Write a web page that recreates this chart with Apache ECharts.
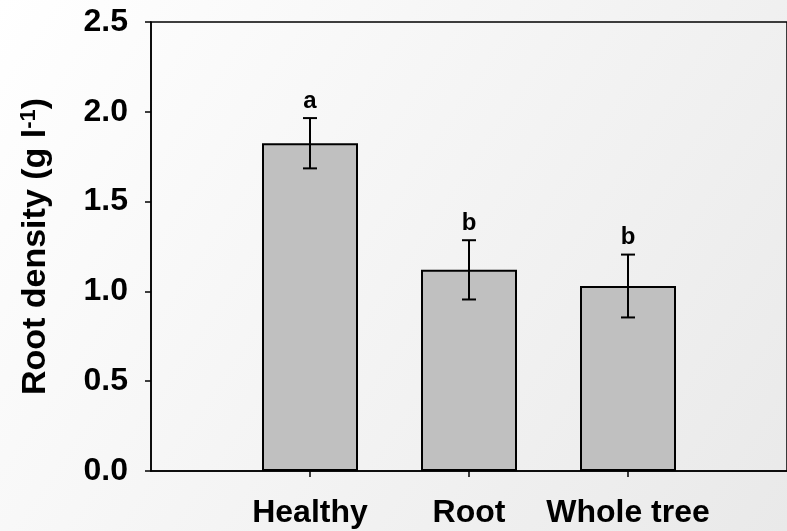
<!DOCTYPE html>
<html>
<head>
<meta charset="utf-8">
<script src="https://cdn.jsdelivr.net/npm/echarts@6/dist/echarts.min.js"></script>
<style>
html,body{margin:0;padding:0;}
#chart{width:787px;height:531px;}
</style>
</head>
<body>
<div id="chart"></div>
<script>
var categories = ['Healthy', 'Root', 'Whole tree'];
var catPositions = [1, 2, 3];
var means = [1.825, 1.12, 1.03];
var errors = [0.14, 0.165, 0.175];
var letters = ['a', 'b', 'b'];
var yMin = 0, yMax = 2.5, yStep = 0.5;

var FONT = 'Liberation Sans, Arial, sans-serif';

var barData = catPositions.map(function (p, i) { return [p, means[i]]; });
var errData = catPositions.map(function (p, i) { return [p, means[i] - errors[i], means[i] + errors[i], i]; });

var chart = echarts.init(document.getElementById('chart'));
chart.setOption({
  backgroundColor: {
    type: 'linear', x: 0, y: 0, x2: 1, y2: 1,
    colorStops: [{offset: 0, color: '#ffffff'}, {offset: 1, color: '#e9e9e9'}]
  },
  animation: false,
  grid: {left: 151, top: 22, width: 642, height: 449, show: true, borderColor: '#000', borderWidth: 1.5, backgroundColor: 'transparent'},
  xAxis: {
    type: 'value', min: 0, max: 4,
    splitLine: {show: false},
    axisLine: {show: true, onZero: false, lineStyle: {color: '#000', width: 1.5}},
    axisTick: {show: true, customValues: catPositions, length: 6, lineStyle: {color: '#000', width: 1.5}},
    axisLabel: {
      customValues: catPositions,
      formatter: function (v) { var i = catPositions.indexOf(v); return i >= 0 ? categories[i] : ''; },
      color: '#000', fontFamily: FONT, fontWeight: 'bold', fontSize: 32, margin: 26
    }
  },
  yAxis: {
    type: 'value', min: yMin, max: yMax, interval: yStep,
    splitLine: {show: false},
    axisLine: {show: true, lineStyle: {color: '#000', width: 1.5}},
    axisTick: {show: true, length: 6, lineStyle: {color: '#000', width: 1.5}},
    axisLabel: {
      formatter: function (v) { return v.toFixed(1); },
      color: '#000', fontFamily: FONT, fontWeight: 'bold', fontSize: 32, margin: 23
    },
    name: '{n|Root density (g l}{s|-1}{n|)}',
    nameLocation: 'middle', nameGap: 97, nameRotate: 90,
    nameTextStyle: {
      rich: {
        n: {fontFamily: FONT, fontWeight: 'bold', fontSize: 34, color: '#000'},
        s: {fontFamily: FONT, fontWeight: 'bold', fontSize: 22, color: '#000', verticalAlign: 'top', padding: [0, 0, 14, 0]}
      }
    }
  },
  series: [
    {
      type: 'bar', data: barData, barWidth: 96,
      itemStyle: {color: '#c0c0c0', borderColor: '#000', borderWidth: 2}
    },
    {
      type: 'custom', data: errData,
      renderItem: function (params, api) {
        var x = api.value(0);
        var lo = api.coord([x, api.value(1)]);
        var hi = api.coord([x, api.value(2)]);
        var cap = 7;
        var st = {stroke: '#000', lineWidth: 2};
        var idx = api.value(3);
        return {
          type: 'group',
          children: [
            {type: 'line', shape: {x1: lo[0], y1: lo[1], x2: hi[0], y2: hi[1]}, style: st},
            {type: 'line', shape: {x1: lo[0] - cap, y1: lo[1], x2: lo[0] + cap, y2: lo[1]}, style: st},
            {type: 'line', shape: {x1: hi[0] - cap, y1: hi[1], x2: hi[0] + cap, y2: hi[1]}, style: st},
            {type: 'text', style: {text: letters[idx], x: hi[0], y: hi[1] - 5, align: 'center', verticalAlign: 'bottom',
              font: 'bold 24px ' + FONT, fill: '#000'}}
          ]
        };
      },
      z: 5
    }
  ]
});
</script>
</body>
</html>
